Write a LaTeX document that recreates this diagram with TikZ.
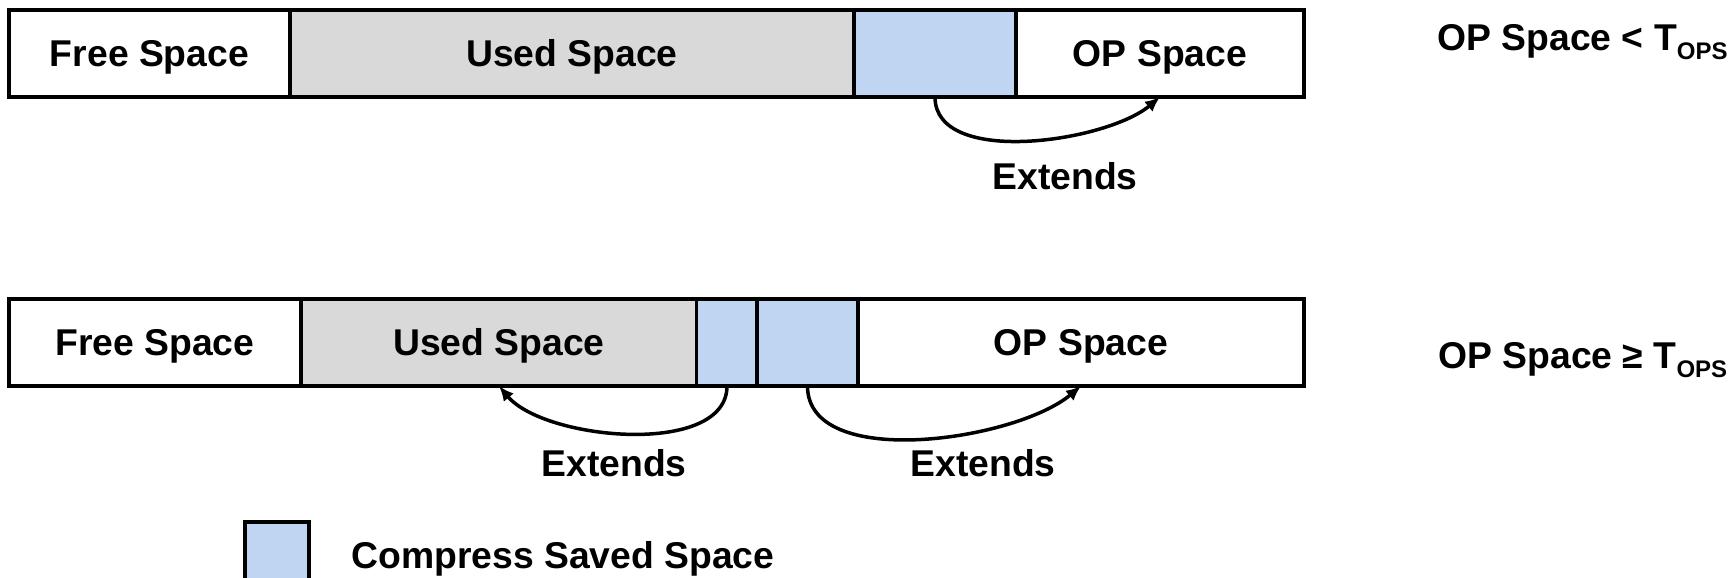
\documentclass[tikz,border=0pt]{standalone}
\usepackage{fontspec}
\setmainfont{Liberation Sans}
\usetikzlibrary{arrows.meta}
\definecolor{saved}{RGB}{192,213,242}
\definecolor{usedgray}{RGB}{217,217,217}
\newcommand\subops{\raisebox{-4.3pt}{\fontsize{12}{14}\selectfont OPS}}
\begin{document}
\begin{tikzpicture}[x=0.5pt,y=0.5pt,
  font=\fontsize{18.65}{22}\selectfont\bfseries,
  seg/.style={draw, line width=1.85pt, inner sep=0pt, outer sep=0pt,
    minimum height=43.5pt, text height=13.35pt, text depth=0pt},
  lbl/.style={inner sep=0pt, anchor=base},
  ext/.style={-{Latex[length=7.5pt,width=6.5pt]}, line width=1.75pt}]
\useasboundingbox (0,0) rectangle (1731,578);

% first layout: OP space below the threshold
\node[seg, minimum width=140.5pt] (f1) at (149.5,524.5) {Free Space};
\node[seg, fill=usedgray, minimum width=282pt] (u1) at (572,524.5) {Used Space};
\node[seg, fill=saved, minimum width=81pt] (b1) at (935,524.5) {};
\node[seg, minimum width=144pt] (op1) at (1160,524.5) {OP Space};
\draw[ext] (b1.south) to[out=-90,in=-140,looseness=0.8] (op1.south);
\node[lbl] (e1) at (1065,388) {Extends};
\node[anchor=base west, inner sep=0pt] (cond1) at (1437,527.3) {OP Space < T\subops};

% second layout: OP space at or above the threshold
\node[seg, minimum width=146pt] (f2) at (155,235.5) {Free Space};
\node[seg, fill=usedgray, minimum width=198pt] (u2) at (499,235.5) {Used Space};
\node[seg, fill=saved, minimum width=30.5pt] (b2) at (727,235.5) {};
\node[seg, fill=saved, minimum width=50.5pt] (b3) at (807.5,235.5) {};
\node[seg, minimum width=223pt] (op2) at (1081,235.5) {OP Space};
\draw[ext] (b2.south) to[out=-90,in=-50,looseness=0.8] (u2.south);
\draw[ext] (b3.south) to[out=-90,in=-140,looseness=0.8] (op2.south);
\node[lbl] (e2) at (614,101) {Extends};
\node[lbl] (e3) at (983,101) {Extends};
\node[anchor=base west, inner sep=0pt] (cond2) at (1438,209) {OP Space ≥ T\subops};

% legend
\node[seg, fill=saved, minimum width=32pt, minimum height=32pt] (leg) at (277,24) {};
\node[inner sep=0pt, anchor=west, text height=13.35pt, text depth=0pt] (legtxt) at (351,23) {Compress Saved Space};
\end{tikzpicture}
\end{document}
